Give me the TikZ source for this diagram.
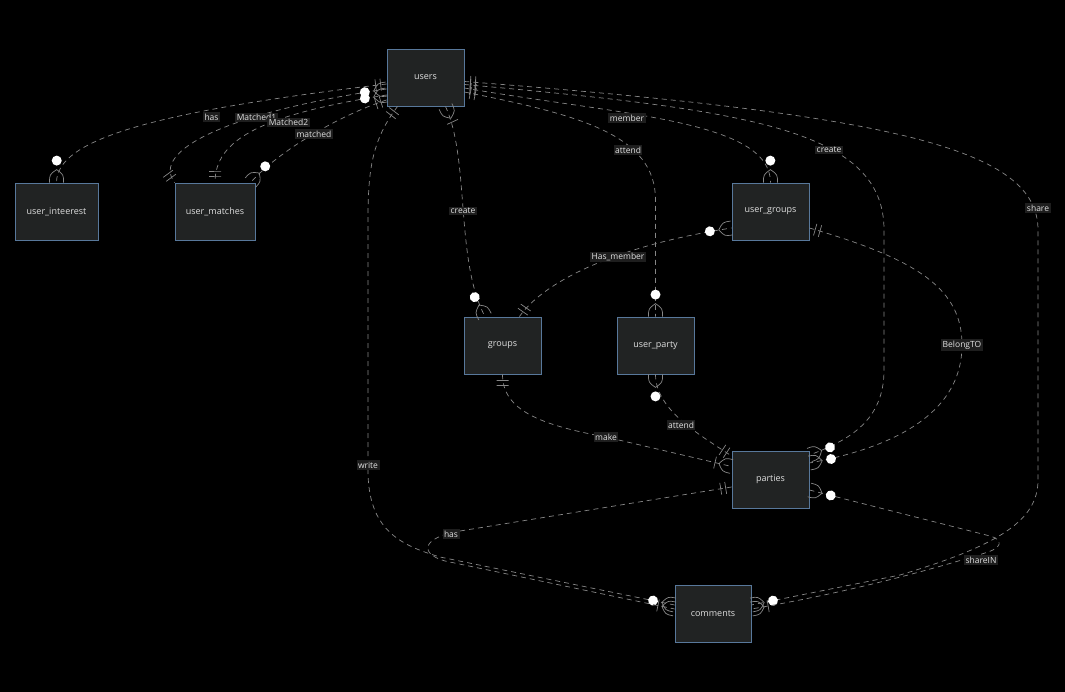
\documentclass[tikz,border=0pt]{standalone}
\usepackage{fontspec}
\newfontfamily\osans{Open Sans}
\usetikzlibrary{calc,decorations.markings}
\definecolor{entfill}{RGB}{33,35,35}
\definecolor{entborder}{RGB}{88,120,155}
\definecolor{enttext}{RGB}{222,222,222}
\definecolor{linec}{RGB}{135,135,135}
\definecolor{labbg}{RGB}{30,30,30}
\definecolor{labtext}{RGB}{225,225,225}
\newcommand\mkZM{\draw[solid] (0pt,7pt) .. controls (-8pt,7pt) .. (-13pt,0pt) .. controls (-8pt,-7pt) .. (0pt,-7pt); \fill[white] (-22pt,0pt) circle[radius=5pt];}
\newcommand\mkOM{\draw[solid] (0pt,7pt) .. controls (-8pt,7pt) .. (-13pt,0pt) .. controls (-8pt,-7pt) .. (0pt,-7pt); \draw[solid] (-17pt,-6pt) -- (-17pt,6pt);}
\newcommand\mkOO{\draw[solid] (-6pt,-6pt) -- (-6pt,6pt) (-11pt,-6pt) -- (-11pt,6pt);}
\tikzset{
  ent/.style={draw=entborder, fill=entfill, text=enttext, line width=0.8pt, minimum height=57pt, inner sep=0pt, font=\osans\fontsize{9pt}{11pt}\selectfont},
  lab/.style={fill=labbg, text=labtext, inner sep=1.5pt, font=\osans\fontsize{8.5pt}{10pt}\selectfont},
  rel/.style 2 args={draw=linec, line width=0.7pt, dash pattern=on 5pt off 4pt, postaction={decorate},
    decoration={markings, mark=at position 0.01pt with {\begin{scope}[xscale=-1]#1\end{scope}}, mark=at position -0.3pt with {\begin{scope}[xshift=0.3pt]#2\end{scope}}}}
}
\begin{document}
\begin{tikzpicture}[x=1pt,y=-1pt]
\fill[black] (0,0) rectangle (1065,692);
\useasboundingbox (0,0) rectangle (1065,692);
% entities
\node[ent, minimum width=77pt] (users) at (425.5,77.5) {users};
\node[ent, minimum width=83pt] (user_inteerest) at (56.5,211.5) {user\_inteerest};
\node[ent, minimum width=80pt] (user_matches) at (215,211.5) {user\_matches};
\node[ent, minimum width=77pt] (user_groups) at (770.5,211.5) {user\_groups};
\node[ent, minimum width=77pt] (groups) at (502.5,345.5) {groups};
\node[ent, minimum width=77pt] (user_party) at (655.5,345.5) {user\_party};
\node[ent, minimum width=77pt] (parties) at (770.5,479.5) {parties};
\node[ent, minimum width=76pt] (comments) at (713,613.5) {comments};
% relations
\draw[rel={\mkOO}{\mkZM}] ($(users.west)+(0,6.5)$) .. controls (150,112) and (56.5,140) .. (user_inteerest.north);
\draw[rel={\mkZM}{\mkOO}] ($(users.west)+(0,11.5)$) .. controls (230,112) and (150,150) .. (user_matches.north west);
\draw[rel={\mkZM}{\mkOO}] ($(users.west)+(0,17.5)$) .. controls (260,115) and (215,140) .. (user_matches.north);
\draw[rel={\mkOO}{\mkZM}] ($(users.west)+(0,22.5)$) .. controls (340,115) and (280,150) .. ($(user_matches.north east)+(-5,0)$);
\draw[rel={\mkOO}{\mkZM}] ($(users.south west)+(11,0)$) .. controls (372,140) and (368,170) .. (368,220) -- (368,470) .. controls (368,530) and (400,545) .. (440,557) -- ($(comments.west)+(0,-8.5)$);
\draw[rel={\mkOM}{\mkZM}] ($(users.south)+(20,0)$) .. controls (470,160) and (455,260) .. ($(groups.north)+(-17.5,0)$);
\draw[rel={\mkOO}{\mkZM}] ($(users.east)+(0,14.5)$) .. controls (580,115) and (655.5,135) .. (655.5,200) -- (user_party.north);
\draw[rel={\mkOO}{\mkZM}] ($(users.east)+(0,10.5)$) .. controls (620,115) and (770.5,120) .. (user_groups.north);
\draw[rel={\mkOO}{\mkZM}] ($(users.east)+(0,7)$) .. controls (750,110) and (884,130) .. (884,230) -- (884,370) .. controls (884,420) and (850,440) .. ($(parties.east)+(0,-24.5)$);
\draw[rel={\mkOO}{\mkZM}] ($(users.east)+(0,4)$) .. controls (900,115) and (1038,150) .. (1038,230) -- (1038,480) .. controls (1038,520) and (1000,545) .. (900,575) -- ($(comments.east)+(0,-8.5)$);
\draw[rel={\mkOO}{\mkZM}] ($(groups.north east)+(-22,0)$) .. controls (545,280) and (620,245) .. ($(user_groups.west)+(0,16.5)$);
\draw[rel={\mkOO}{\mkZM}] ($(user_groups.east)+(0,16.5)$) .. controls (920,260) and (962,290) .. (962,345) .. controls (962,420) and (880,450) .. ($(parties.east)+(0,-16.5)$);
\draw[rel={\mkOO}{\mkOM}] (groups.south) .. controls (502.5,410) and (540,425) .. (606,437) -- ($(parties.west)+(0,-13)$);
\draw[rel={\mkZM}{\mkOO}] (user_party.south) .. controls (655.5,410) and (700,435) .. ($(parties.west)+(0,-23.5)$);
\draw[rel={\mkOO}{\mkOM}] ($(parties.west)+(0,7.5)$) -- (460,531) .. controls (420,538) and (420,554) .. (445,561) -- ($(comments.west)+(0,-4.5)$);
\draw[rel={\mkZM}{\mkOM}] ($(parties.east)+(0,10.5)$) -- (990,536) .. controls (1004,540) and (1002,548) .. (985,553) .. controls (930,570) and (850,592) .. ($(comments.east)+(0,-4.5)$);
% labels
\node[lab] (l1) at (211.5,117) {has};
\node[lab] (l2) at (256.5,117.5) {Matched1};
\node[lab] (l3) at (288.5,122.5) {Matched2};
\node[lab] (l4) at (314,134) {matched};
\node[lab] (l5) at (368,465) {write};
\node[lab] (l6) at (463,211) {create};
\node[lab] (l7) at (628,150) {attend};
\node[lab] (l8) at (627,118) {member};
\node[lab] (l9) at (829,150) {create};
\node[lab] (l10) at (1038,208) {share};
\node[lab] (l11) at (618,257) {Has\_member};
\node[lab] (l12) at (962,345) {BelongTO};
\node[lab] (l13) at (606,437) {make};
\node[lab] (l14) at (681,425) {attend};
\node[lab] (l15) at (451,534) {has};
\node[lab] (l16) at (981,560) {shareIN};
\end{tikzpicture}
\end{document}
